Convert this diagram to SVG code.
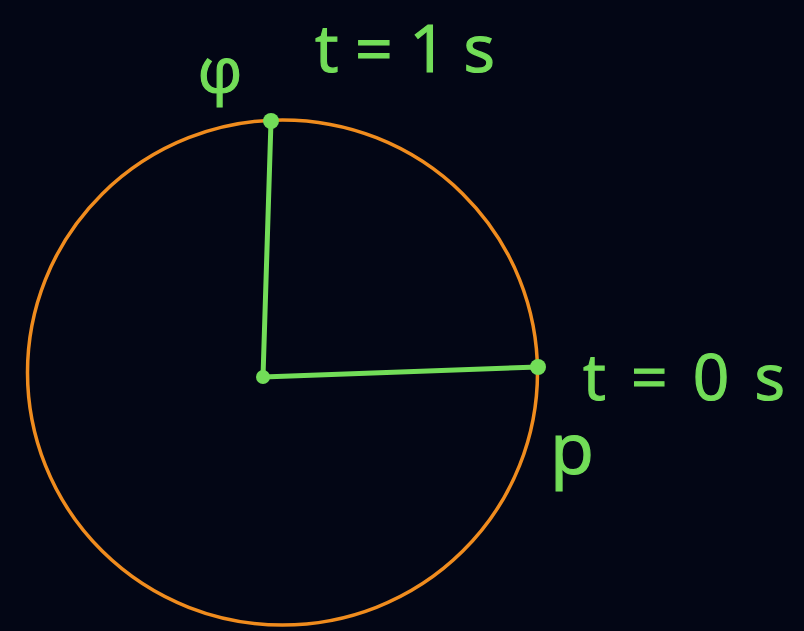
<svg xmlns="http://www.w3.org/2000/svg" width="804" height="631" viewBox="0 0 804 631">
<style>
.lbl{font-family:"Open Sans","Liberation Sans",sans-serif;fill:#72dd58;stroke:#72dd58;stroke-width:1.2;}
.g{stroke:#72dd58;stroke-width:5;stroke-linecap:round;fill:none;}
.dot{fill:#72dd58;}
</style>
<rect x="0" y="0" width="804" height="631" fill="#030615"/>
<g id="circle">
<ellipse cx="282.5" cy="372.5" rx="255" ry="252.5" fill="none" stroke="#f08c1e" stroke-width="3.5"/>
</g>
<g id="connectors">
<path class="g" d="M263 377 L271 121"/>
<path class="g" d="M263 377 L538 367"/>
</g>
<g id="center"><circle class="dot" cx="263" cy="377" r="7"/></g>
<g id="top-point"><circle class="dot" cx="271" cy="121" r="8"/></g>
<g id="right-point"><circle class="dot" cx="538" cy="367" r="8"/></g>
<g id="label-phi"><text class="lbl" x="220" y="92" font-size="62" text-anchor="middle">φ</text></g>
<g id="label-t1"><text class="lbl" x="315" y="72" font-size="66" textLength="180" lengthAdjust="spacing">t=1s</text></g>
<g id="label-t0"><text class="lbl" x="583" y="400" font-size="64" textLength="202" lengthAdjust="spacing">t=0s</text></g>
<g id="label-p"><text class="lbl" x="550" y="474" font-size="72">p</text></g>
</svg>
